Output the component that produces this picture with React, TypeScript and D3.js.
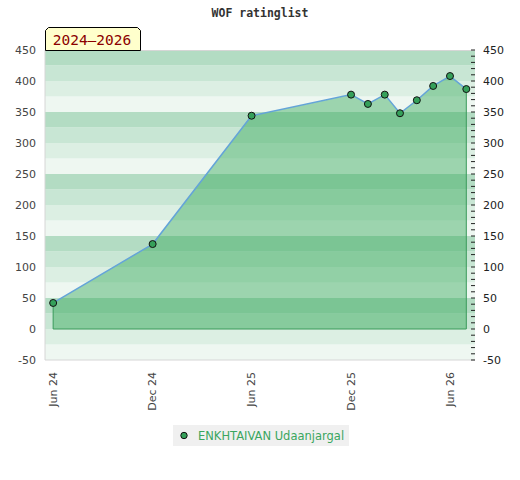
import React from 'react';
import { scaleLinear, scaleTime, line, area, range, timeFormat } from 'd3';

const months = [
  '2024-06-01', '2024-12-01', '2025-06-01', '2025-12-01', '2026-01-01',
  '2026-02-01', '2026-03-01', '2026-04-01', '2026-05-01', '2026-06-01',
  '2026-07-01',
];
const ratings = [42, 137, 344, 378, 363, 378, 348, 369, 392, 408, 387];
const xTickDates = ['2024-06-01', '2024-12-01', '2025-06-01', '2025-12-01', '2026-06-01'];
const yTicks = [-50, 0, 50, 100, 150, 200, 250, 300, 350, 400, 450];
const playerName = 'ENKHTAIVAN Udaanjargal';
const chartTitle = 'WOF ratinglist';
const periodLabel = '2024–2026';

const bandColors = ['#b3dcc3', '#c8e6d4', '#dcefe3', '#eef7f1'];

interface Point {
  date: Date;
  value: number;
}

const parse = (s: string) => new Date(s + 'T00:00:00');

export default function App() {
  const width = 520;
  const height = 480;
  const plot = { left: 45, right: 475, top: 50, bottom: 360 };

  const x = scaleTime()
    .domain([parse('2024-05-17'), parse('2026-07-17')])
    .range([plot.left, plot.right]);
  const y = scaleLinear().domain([-50, 450]).range([plot.bottom, plot.top]);

  const data: Point[] = months.map((m, i) => ({ date: parse(m), value: ratings[i] }));

  const linePath = line<Point>()
    .x((d) => x(d.date))
    .y((d) => y(d.value))(data);
  const areaPath = area<Point>()
    .x((d) => x(d.date))
    .y0(y(0))
    .y1((d) => y(d.value))(data);

  const first = data[0];
  const last = data[data.length - 1];
  // outline of the area: left side, bottom, right side
  const outline = `M${x(first.date)},${y(first.value)}V${y(0)}H${x(last.date)}V${y(last.value)}`;

  const fmt = timeFormat('%b %y');
  const axisFont = 'DejaVu Sans, Verdana, sans-serif';

  return (
    <svg
      width={width}
      height={height}
      style={{ position: 'absolute', left: 0, top: 0, background: '#fff' }}
    >
      <text
        x={260}
        y={17}
        textAnchor="middle"
        fontFamily="DejaVu Sans Mono, monospace"
        fontWeight="bold"
        fontSize={11.5}
        fill="#333"
      >
        {chartTitle}
      </text>

      {/* stripes */}
      {range(-50, 450, 25).map((v) => {
        const idx = ((450 - (v + 25)) / 25) % 4;
        return (
          <rect
            key={`band-${v}`}
            x={plot.left}
            y={y(v + 25)}
            width={plot.right - plot.left}
            height={y(v) - y(v + 25)}
            fill={bandColors[idx]}
          />
        );
      })}

      <path d={`M${plot.left},${plot.top}V${plot.bottom}H${plot.right}`} fill="none" stroke="#d6d6d6" />
      <line x1={plot.left} x2={plot.right} y1={plot.top + 0.5} y2={plot.top + 0.5} stroke="#d6d6d6" />

      <path d={areaPath ?? ''} fill="#31a656" fillOpacity={0.43} />
      <path d={outline} fill="none" stroke="#3a9a5a" strokeWidth={1} />
      <path d={linePath ?? ''} fill="none" stroke="#64a4d8" strokeWidth={1.5} />
      {data.map((d, i) => (
        <circle
          key={`pt-${i}`}
          cx={x(d.date)}
          cy={y(d.value)}
          r={3.5}
          fill="#35a05a"
          stroke="#111"
          strokeWidth={1}
        />
      ))}

      {/* left axis labels */}
      {yTicks.map((t) => (
        <text
          key={`yl-${t}`}
          x={36}
          y={y(t)}
          dy="0.35em"
          textAnchor="end"
          fontFamily={axisFont}
          fontSize={11}
          fill="#444"
        >
          {t}
        </text>
      ))}

      {/* right axis */}
      {range(-50, 451, 10).map((t) => (
        <line
          key={`rt-${t}`}
          x1={plot.right - 4}
          x2={plot.right}
          y1={y(t)}
          y2={y(t)}
          stroke="#222"
        />
      ))}
      {yTicks.map((t) => (
        <text
          key={`yr-${t}`}
          x={483}
          y={y(t)}
          dy="0.35em"
          fontFamily={axisFont}
          fontSize={11}
          fill="#222"
        >
          {t}
        </text>
      ))}

      {/* bottom labels */}
      {xTickDates.map((s) => {
        const d = parse(s);
        return (
          <text
            key={`xl-${s}`}
            transform={`translate(${x(d)},372) rotate(-90)`}
            dy="0.35em"
            textAnchor="end"
            fontFamily={axisFont}
            fontSize={11}
            fill="#444"
          >
            {fmt(d)}
          </text>
        );
      })}

      {/* period label */}
      <path
        d="M45.5,50.5V30.5L48.5,27.5H137.5L140.5,30.5V50.5Z"
        fill="#ffffcc"
        stroke="#000"
      />
      <text
        x={92}
        y={45}
        textAnchor="middle"
        fontFamily="DejaVu Sans Mono, monospace"
        fontSize={14.5}
        fill="#8b0000"
      >
        {periodLabel}
      </text>

      {/* legend */}
      <rect x={173} y={425} width={176} height={21} fill="#f0f0f0" />
      <circle cx={184} cy={435.5} r={3.2} fill="#35a05a" stroke="#111" />
      <text x={198} y={440} fontFamily={axisFont} fontSize={11.5} fill="#3aa65e">
        {playerName}
      </text>
    </svg>
  );
}
